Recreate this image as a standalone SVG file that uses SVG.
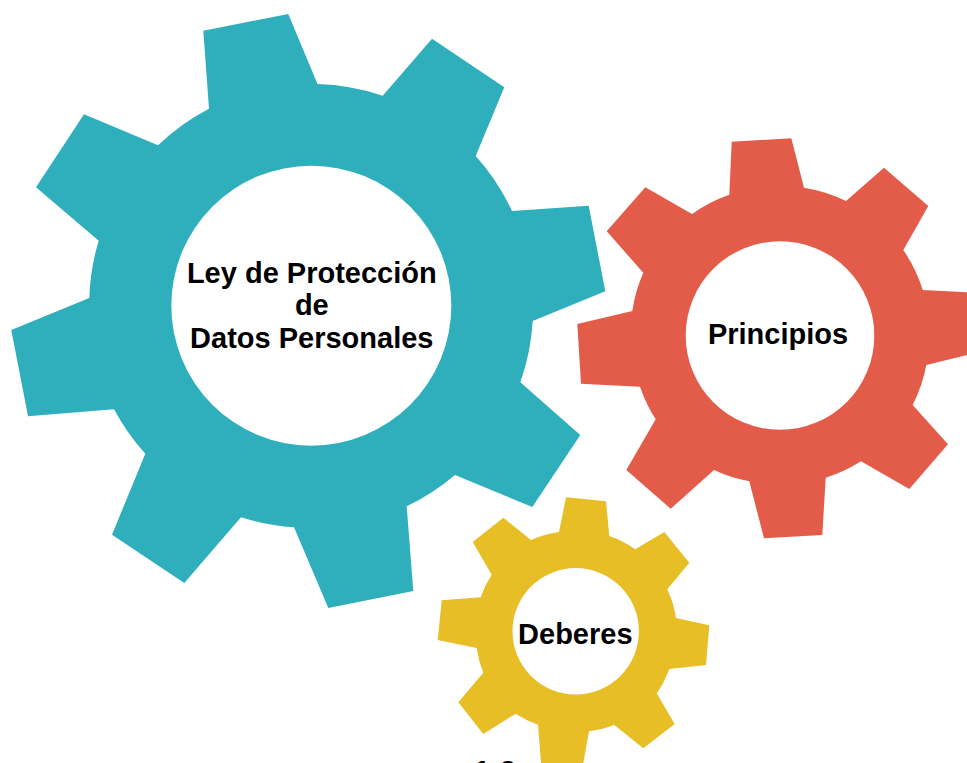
<svg xmlns="http://www.w3.org/2000/svg" width="967" height="763" viewBox="0 0 967 763">
<style>
text{font-family:"Liberation Sans",Arial,sans-serif;font-weight:700;font-size:29px;fill:#000;text-anchor:middle}
.hole{fill:#fff}
</style>
<rect width="967" height="763" fill="#fff"/>
<g id="gear-ley">
<path fill="#2fafbb" d="M203.3 30.7L288.3 14L317.5 84A221 221 0 0 1 382.7 95.7L432 38.7L504.3 87.3L475.7 156A221 221 0 0 1 512 211L588.7 205.7L605.3 291.3L532.7 321A221 221 0 0 1 520.3 382.3L580.3 435L532.3 507L455 475A221 221 0 0 1 406.7 506.3L413.3 591L328.3 608L294 527.3A221 221 0 0 1 241 517.3L184.3 583L112 534.7L145.3 453.7A221 221 0 0 1 114 409.3L28 416.3L11.3 330L89.3 298A221 221 0 0 1 98.7 240.7L36 187.3L84 114.3L158 145.3A221 221 0 0 1 209 108.7Z"/>
<circle class="hole" cx="311.3" cy="305.7" r="140"/>
<text x="311.8" y="283">Ley de Protección</text>
<text x="311.8" y="315">de</text>
<text x="311.8" y="347.5">Datos Personales</text>
</g>
<g id="gear-principios">
<path fill="#e35b49" d="M731.7 141.7L791.3 138.3L804 187.7A149 149 0 0 1 846 201L884 167.7L928.3 206L903.3 250A149 149 0 0 1 922.7 290L967 292.3V355L926.3 365A149 149 0 0 1 912.7 405L948 444.3L909.3 489L861 461.3A149 149 0 0 1 825.7 477.7L822.3 535L764 538.3L749.3 481.3A149 149 0 0 1 714 470L670.7 508.7L626.3 470L655.7 419.3A149 149 0 0 1 640 386.7L581 383.7L577.3 324L632.3 311A149 149 0 0 1 643.3 272.7L606.7 231.3L645.3 187.3L692 214A149 149 0 0 1 729.3 194.7Z"/>
<circle class="hole" cx="780" cy="335.5" r="94.3"/>
<text x="778" y="344">Principios</text>
</g>
<g id="gear-deberes">
<path fill="#e7be25" d="M566 497.3L606 501.3L609.3 536A100.5 100.5 0 0 1 635.3 549.3L664.3 532L689.3 562.7L667.3 589.3A100.5 100.5 0 0 1 676 618L709.3 625.3L706 665L669.3 669A100.5 100.5 0 0 1 656.7 693.3L674.7 724L643.3 748.3L614.3 725A100.5 100.5 0 0 1 589 731.3L583.3 763H541L538 724.7A100.5 100.5 0 0 1 515.7 713.7L483.3 734L458.3 702.3L483.3 672.7A100.5 100.5 0 0 1 476.7 648L437.7 640L441.7 600.3L480.7 597.3A100.5 100.5 0 0 1 491.7 574.7L472.7 542L503.3 517.7L531 540A100.5 100.5 0 0 1 559 532Z"/>
<circle class="hole" cx="575.7" cy="631.3" r="63.2"/>
<text x="575.3" y="644">Deberes</text>
</g>
<text x="474" y="781" style="text-anchor:start;word-spacing:1.5px">1 2</text>
</svg>
